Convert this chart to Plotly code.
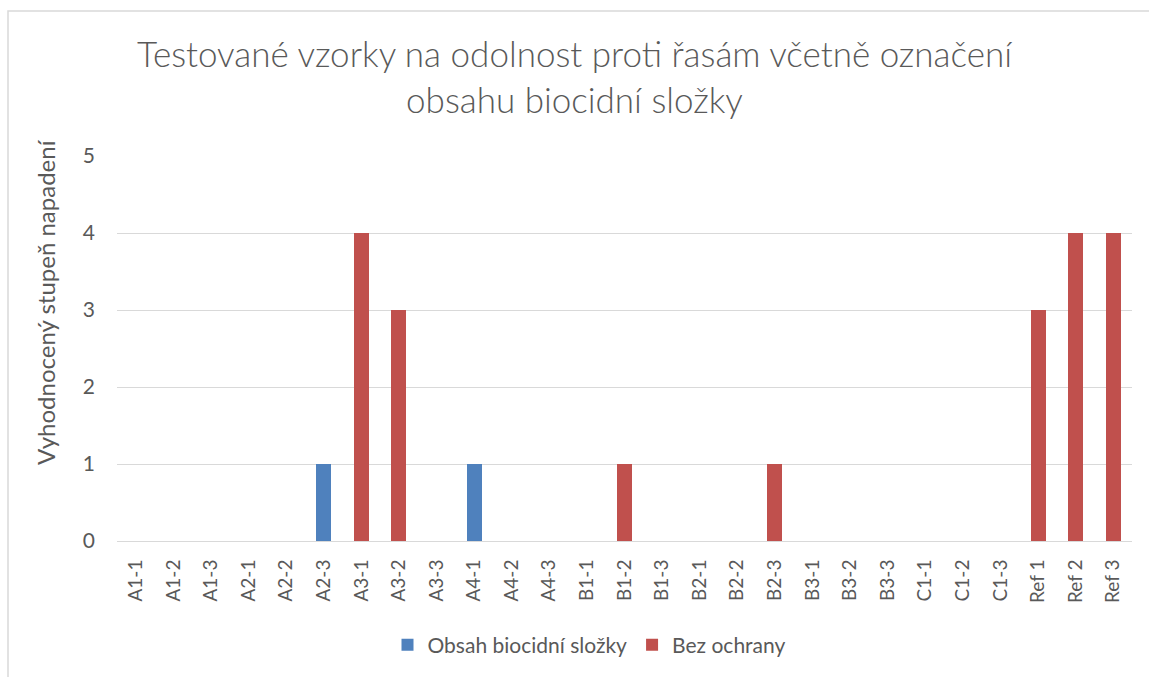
import plotly.graph_objects as go

categories = ["A1-1", "A1-2", "A1-3", "A2-1", "A2-2", "A2-3", "A3-1", "A3-2", "A3-3",
              "A4-1", "A4-2", "A4-3", "B1-1", "B1-2", "B1-3", "B2-1", "B2-2", "B2-3",
              "B3-1", "B3-2", "B3-3", "C1-1", "C1-2", "C1-3", "Ref 1", "Ref 2", "Ref 3"]
biocid = [0, 0, 0, 0, 0, 1, 0, 0, 0, 1, 0, 0, 0, 0, 0, 0, 0, 0,
          0, 0, 0, 0, 0, 0, 0, 0, 0]
bez_ochrany = [0, 0, 0, 0, 0, 0, 4, 3, 0, 0, 0, 0, 0, 1, 0, 0, 0, 1,
               0, 0, 0, 0, 0, 0, 3, 4, 4]

FONT = "Lato, 'Open Sans', sans-serif"
GREY = "#595959"

fig = go.Figure()
fig.add_trace(go.Bar(x=categories, y=biocid, name="Obsah biocidní složky",
                     marker=dict(color="#4f81bd", line=dict(width=0))))
fig.add_trace(go.Bar(x=categories, y=bez_ochrany, name="Bez ochrany",
                     marker=dict(color="#c0504d", line=dict(width=0))))

L, R, T, B = 117, 17, 156, 136
W, H = 1149, 677
pw, ph = W - L - R, H - T - B

fig.update_layout(
    width=W, height=H,
    barmode="stack", bargap=0.6,
    paper_bgcolor="white", plot_bgcolor="white",
    margin=dict(l=L, r=R, t=T, b=B),
    font=dict(family=FONT, color=GREY, size=20),
    title=dict(text="Testované vzorky na odolnost proti řasám včetně označení<br>obsahu biocidní složky",
               x=0.5, xanchor="center", y=1 - 67 / H, yanchor="middle",
               font=dict(size=35, color=GREY, family=FONT, weight=300)),
    xaxis=dict(tickangle=-90, showgrid=False, showline=True, linecolor="#d9d9d9",
               linewidth=1, ticks="", ticklabelstandoff=10,
               tickfont=dict(size=19, color=GREY)),
    yaxis=dict(range=[0, 5], dtick=1, showgrid=True, gridcolor="#d9d9d9",
               zeroline=False, ticks="", ticklabelstandoff=21,
               tickfont=dict(size=21, color=GREY)),
    legend=dict(orientation="h", x=(589 - L) / pw, xanchor="center", y=(541 - 645) / ph,
                yanchor="middle", font=dict(size=21, color=GREY),
                itemwidth=30, traceorder="normal"),
    annotations=[dict(text="Vyhodnocený stupeň napadení", textangle=-90,
                      xref="paper", yref="paper", x=(45 - L) / pw, y=(541 - 302) / ph,
                      xanchor="center", yanchor="middle", showarrow=False,
                      font=dict(size=24, color=GREY, family=FONT))],
    shapes=[dict(type="rect", xref="paper", yref="paper",
                 x0=(8 - L) / pw, x1=(W + 5 - L) / pw,
                 y0=(541 - H - 5) / ph, y1=(541 - 11) / ph,
                 line=dict(color="#d9d9d9", width=1.5), layer="below")],
)

fig.write_html("out.html")
